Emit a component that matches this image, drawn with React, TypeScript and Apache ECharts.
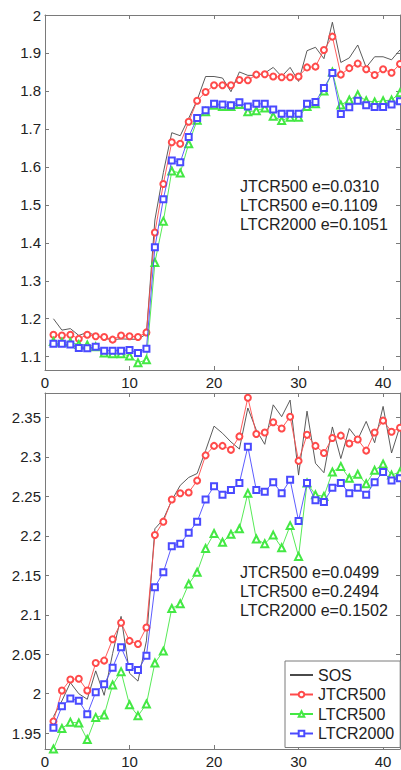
import React, { useEffect, useRef } from 'react';
import * as echarts from 'echarts';

const xs = [1, 2, 3, 4, 5, 6, 7, 8, 9, 10, 11, 12, 13, 14, 15, 16, 17, 18, 19, 20, 21, 22, 23, 24, 25, 26, 27, 28, 29, 30, 31, 32, 33, 34, 35, 36, 37, 38, 39, 40, 41, 42];

const seriesNames = ['SOS', 'JTCR500', 'LTCR500', 'LTCR2000'];

// Top panel
const topSOS = [1.200, 1.170, 1.174, 1.156, 1.164, 1.156, 1.148, 1.145, 1.147, 1.146, 1.146, 1.160, 1.460, 1.585, 1.690, 1.682, 1.728, 1.776, 1.838, 1.838, 1.834, 1.798, 1.850, 1.841, 1.841, 1.847, 1.862, 1.838, 1.862, 1.825, 1.906, 1.915, 1.885, 1.981, 1.875, 1.887, 1.921, 1.862, 1.890, 1.890, 1.882, 1.908];
const topJTCR500 = [1.158, 1.156, 1.158, 1.147, 1.158, 1.154, 1.152, 1.145, 1.156, 1.154, 1.152, 1.164, 1.427, 1.555, 1.665, 1.661, 1.719, 1.774, 1.797, 1.815, 1.815, 1.815, 1.829, 1.828, 1.843, 1.844, 1.838, 1.836, 1.836, 1.838, 1.862, 1.864, 1.908, 1.943, 1.843, 1.860, 1.872, 1.857, 1.842, 1.857, 1.848, 1.871];
const topLTCR500 = [1.140, 1.138, 1.138, 1.132, 1.131, 1.126, 1.110, 1.108, 1.108, 1.102, 1.084, 1.092, 1.348, 1.457, 1.589, 1.584, 1.661, 1.723, 1.745, 1.762, 1.759, 1.759, 1.764, 1.745, 1.748, 1.755, 1.733, 1.722, 1.731, 1.731, 1.759, 1.766, 1.800, 1.850, 1.763, 1.776, 1.790, 1.774, 1.771, 1.774, 1.776, 1.795];
const topLTCR2000 = [1.134, 1.134, 1.132, 1.123, 1.122, 1.126, 1.116, 1.116, 1.116, 1.118, 1.110, 1.121, 1.388, 1.515, 1.617, 1.612, 1.679, 1.729, 1.749, 1.766, 1.764, 1.762, 1.770, 1.759, 1.766, 1.766, 1.751, 1.740, 1.740, 1.740, 1.766, 1.771, 1.808, 1.847, 1.739, 1.757, 1.774, 1.762, 1.758, 1.758, 1.764, 1.773];

// Bottom panel
const botSOS = [1.971, 1.991, 2.014, 2.000, 1.993, 2.029, 1.998, 2.051, 2.098, 2.026, 2.016, 2.067, 2.209, 2.221, 2.245, 2.264, 2.274, 2.279, 2.308, 2.339, 2.330, 2.319, 2.310, 2.362, 2.334, 2.316, 2.366, 2.351, 2.372, 2.277, 2.358, 2.292, 2.280, 2.338, 2.298, 2.336, 2.322, 2.345, 2.318, 2.364, 2.305, 2.339];
const botJTCR500 = [1.965, 2.004, 2.018, 2.019, 2.004, 2.039, 2.042, 2.069, 2.090, 2.067, 2.063, 2.084, 2.201, 2.218, 2.246, 2.254, 2.255, 2.270, 2.302, 2.314, 2.314, 2.309, 2.326, 2.375, 2.329, 2.331, 2.344, 2.336, 2.351, 2.295, 2.328, 2.314, 2.305, 2.324, 2.327, 2.317, 2.322, 2.308, 2.331, 2.346, 2.332, 2.337];
const botLTCR500 = [1.930, 1.956, 1.964, 1.963, 1.942, 1.970, 1.973, 2.011, 2.028, 1.986, 1.972, 1.987, 2.039, 2.054, 2.108, 2.114, 2.139, 2.154, 2.184, 2.203, 2.192, 2.202, 2.209, 2.254, 2.196, 2.190, 2.201, 2.185, 2.213, 2.174, 2.267, 2.252, 2.250, 2.281, 2.288, 2.273, 2.278, 2.266, 2.283, 2.291, 2.277, 2.281];
const botLTCR2000 = [1.957, 1.984, 1.994, 1.991, 1.974, 2.002, 2.012, 2.033, 2.059, 2.034, 2.030, 2.048, 2.135, 2.154, 2.187, 2.190, 2.204, 2.218, 2.246, 2.263, 2.252, 2.258, 2.267, 2.313, 2.258, 2.256, 2.268, 2.254, 2.271, 2.219, 2.267, 2.245, 2.243, 2.261, 2.267, 2.254, 2.261, 2.252, 2.268, 2.281, 2.270, 2.273];

const xTicks = [0, 10, 20, 30, 40];
const topYTicks = [1.1, 1.2, 1.3, 1.4, 1.5, 1.6, 1.7, 1.8, 1.9, 2];
const botYTicks = [1.95, 2, 2.05, 2.1, 2.15, 2.2, 2.25, 2.3, 2.35];

const topNotes = ['JTCR500 e=0.0310', 'LTCR500 e=0.1109', 'LTCR2000 e=0.1051'];
const botNotes = ['JTCR500 e=0.0499', 'LTCR500 e=0.2494', 'LTCR2000 e=0.1502'];

const FONT = 'Liberation Sans, Arial, Helvetica, sans-serif';
const AXIS_COLOR = '#7a7a7a';
const TEXT_COLOR = '#222';

const styles = [
  { color: '#4a4a4a', symbol: 'none', symbolSize: 0 },
  { color: '#ff4a4a', symbol: 'emptyCircle', symbolSize: 6 },
  { color: '#44e844', symbol: 'emptyTriangle', symbolSize: 7 },
  { color: '#4a4aff', symbol: 'emptyRect', symbolSize: 6 },
];

function xAxes(gridIndex: number) {
  const base = {
    type: 'value' as const,
    gridIndex,
    min: 0,
    max: 42,
    splitLine: { show: false },
    axisLine: { show: true, onZero: false, lineStyle: { color: AXIS_COLOR, width: 1 } },
    axisTick: { show: true, inside: true, length: 4, customValues: xTicks, lineStyle: { color: AXIS_COLOR } },
  };
  return [
    {
      ...base,
      position: 'bottom',
      axisLabel: { show: true, customValues: xTicks, margin: 5, fontSize: 15, fontFamily: FONT, color: TEXT_COLOR },
    },
    {
      ...base,
      position: 'top',
      axisLabel: { show: false },
    },
  ];
}

function yAxes(gridIndex: number, min: number, max: number, ticks: number[]) {
  const base = {
    type: 'value' as const,
    gridIndex,
    min,
    max,
    splitLine: { show: false },
    axisLine: { show: true, onZero: false, lineStyle: { color: AXIS_COLOR, width: 1 } },
    axisTick: { show: true, inside: true, length: 4, customValues: ticks, lineStyle: { color: AXIS_COLOR } },
  };
  return [
    {
      ...base,
      position: 'left',
      axisLabel: { show: true, customValues: ticks, margin: 4, fontSize: 15, fontFamily: FONT, color: TEXT_COLOR },
    },
    {
      ...base,
      position: 'right',
      axisLabel: { show: false },
    },
  ];
}

function makeSeries(panel: number, values: number[][]) {
  return values.map((vals, i) => ({
    name: seriesNames[i],
    type: 'line' as const,
    xAxisIndex: panel * 2,
    yAxisIndex: panel * 2,
    data: xs.map((x, k) => [x, vals[k]]),
    symbol: styles[i].symbol,
    symbolSize: styles[i].symbolSize,
    showSymbol: styles[i].symbol !== 'none',
    lineStyle: { color: styles[i].color, width: 0.9 },
    itemStyle: { color: styles[i].color, borderColor: styles[i].color, borderWidth: 0.75 },
    emphasis: { disabled: true },
    z: 2 + i,
  }));
}

function noteTexts(lines: string[], ys: number[]) {
  return lines.map((t, i) => ({
    type: 'text' as const,
    x: 240,
    y: ys[i],
    style: {
      text: t,
      font: `16px ${FONT}`,
      fill: TEXT_COLOR,
      verticalAlign: 'middle',
      align: 'left',
    },
    z: 10,
  }));
}

export default function App() {
  const ref = useRef<HTMLDivElement>(null);
  useEffect(() => {
    if (!ref.current) return;
    const chart = echarts.init(ref.current, undefined, { renderer: 'svg', width: 401, height: 770 });
    const option = {
      animation: false,
      backgroundColor: '#fff',
      grid: [
        { left: 45, top: 15, width: 355, height: 355, containLabel: false },
        { left: 45, top: 393, width: 355, height: 356, containLabel: false },
      ],
      xAxis: [...xAxes(0), ...xAxes(1)],
      yAxis: [...yAxes(0, 1.065, 2, topYTicks), ...yAxes(1, 1.93, 2.381, botYTicks)],
      legend: {
        data: [
          { name: 'SOS', itemStyle: { opacity: 0 } },
          { name: 'JTCR500' },
          { name: 'LTCR500' },
          { name: 'LTCR2000' },
        ],
        orient: 'vertical',
        left: 285,
        top: 661,
        itemWidth: 23,
        itemHeight: 7,
        itemGap: 3.5,
        padding: [6, 6, 6, 4],
        borderColor: AXIS_COLOR,
        borderWidth: 1,
        backgroundColor: '#fff',
        selectedMode: false,
        textStyle: { fontSize: 16, fontFamily: FONT, color: TEXT_COLOR },
      },
      graphic: [...noteTexts(topNotes, [186, 205, 224]), ...noteTexts(botNotes, [572, 591, 610])],
      series: [
        ...makeSeries(0, [topSOS, topJTCR500, topLTCR500, topLTCR2000]),
        ...makeSeries(1, [botSOS, botJTCR500, botLTCR500, botLTCR2000]),
      ],
    };
    chart.setOption(option as any);
    return () => chart.dispose();
  }, []);
  return <div ref={ref} style={{ position: 'absolute', left: 0, top: 0, width: 401, height: 770 }} />;
}
